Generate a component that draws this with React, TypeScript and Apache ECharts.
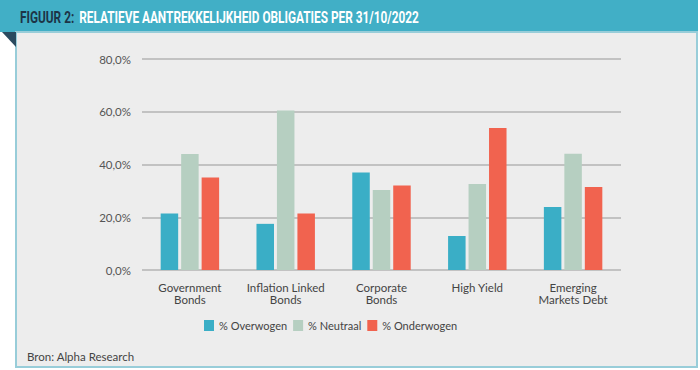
import React, { useEffect, useRef } from "react";
import * as echarts from "echarts";

const categories = [
  "Government\nBonds",
  "Inflation Linked\nBonds",
  "Corporate\nBonds",
  "High Yield",
  "Emerging\nMarkets Debt",
];
const overwogen = [21.4, 17.5, 37.0, 12.9, 23.9];
const neutraal = [44.0, 60.5, 30.3, 32.6, 44.1];
const onderwogen = [35.1, 21.4, 32.0, 53.8, 31.5];
const seriesNames = ["% Overwogen", "% Neutraal", "% Onderwogen"];
const yTicks = { min: 0, max: 80, interval: 20 };

const FONT = "Lato, 'Open Sans', sans-serif";
const TITLE_FONT = "Roboto, 'DejaVu Sans Condensed', sans-serif";

export default function App() {
  const ref = useRef<HTMLDivElement>(null);
  useEffect(() => {
    document.body.style.margin = "0";
    const chart = echarts.init(ref.current!, null, { renderer: "svg" });
    const colors = ["#3aaec6", "#b6cfc1", "#f1634f"];
    const data = [overwogen, neutraal, onderwogen];
    chart.setOption({
      animation: false,
      backgroundColor: "#ffffff",
      textStyle: { fontFamily: FONT },
      graphic: [
        { type: "rect", shape: { x: 0, y: 0, width: 698, height: 32 }, style: { fill: "#41afc6" }, z: 0 },
        {
          type: "rect",
          shape: { x: 16, y: 32, width: 681, height: 335 },
          style: { fill: "#ededed", stroke: "#98cdd9", lineWidth: 2 },
          z: 0,
        },
        {
          type: "polygon",
          shape: { points: [[2, 32], [16, 32], [16, 47]] },
          style: { fill: "#2a4a5f" },
          z: 1,
        },
        {
          type: "text",
          x: 20,
          y: 17,
          scaleX: 0.74,
          style: {
            text: "{a|FIGUUR 2:}  {b|RELATIEVE AANTREKKELIJKHEID OBLIGATIES PER 31/10/2022}",
            verticalAlign: "middle",
            rich: {
              a: { fill: "#1d3447", fontFamily: TITLE_FONT, fontWeight: "bold", fontSize: 16 },
              b: { fill: "#ffffff", fontFamily: TITLE_FONT, fontWeight: "bold", fontSize: 16 },
            },
          },
          z: 2,
        },
        {
          type: "text",
          x: 27,
          y: 356,
          style: { text: "Bron: Alpha Research", fill: "#444", fontSize: 11.5, fontFamily: FONT, verticalAlign: "middle" },
          z: 2,
        },
      ],
      grid: { left: 142, right: 79, top: 59, bottom: 100 },
      legend: {
        left: 204,
        top: 320,
        padding: 0,
        itemWidth: 10,
        itemHeight: 11,
        itemGap: 6,
        icon: "rect",
        textStyle: { fontSize: 11, color: "#444", fontFamily: FONT },
        data: seriesNames,
      },
      xAxis: {
        type: "category",
        data: categories,
        axisLine: { show: false },
        axisTick: { show: false },
        axisLabel: { interval: 0, fontSize: 11.5, color: "#444", lineHeight: 12, margin: 11, fontFamily: FONT },
      },
      yAxis: {
        type: "value",
        min: yTicks.min,
        max: yTicks.max,
        interval: yTicks.interval,
        axisLine: { show: false },
        axisTick: { show: false },
        splitLine: { lineStyle: { color: "#b3b3b3", width: 1.5 } },
        axisLabel: {
          fontSize: 11.5,
          color: "#555",
          margin: 11,
          fontFamily: FONT,
          formatter: (v: number) => v.toFixed(1).replace(".", ",") + "%",
        },
      },
      series: seriesNames.map((n, i) => ({
        name: n,
        type: "bar",
        data: data[i],
        barWidth: 17.5,
        barGap: "17%",
        itemStyle: { color: colors[i] },
      })),
    });
    return () => chart.dispose();
  }, []);
  return <div ref={ref} style={{ position: "fixed", left: 0, top: 0, width: 700, height: 370 }} />;
}
